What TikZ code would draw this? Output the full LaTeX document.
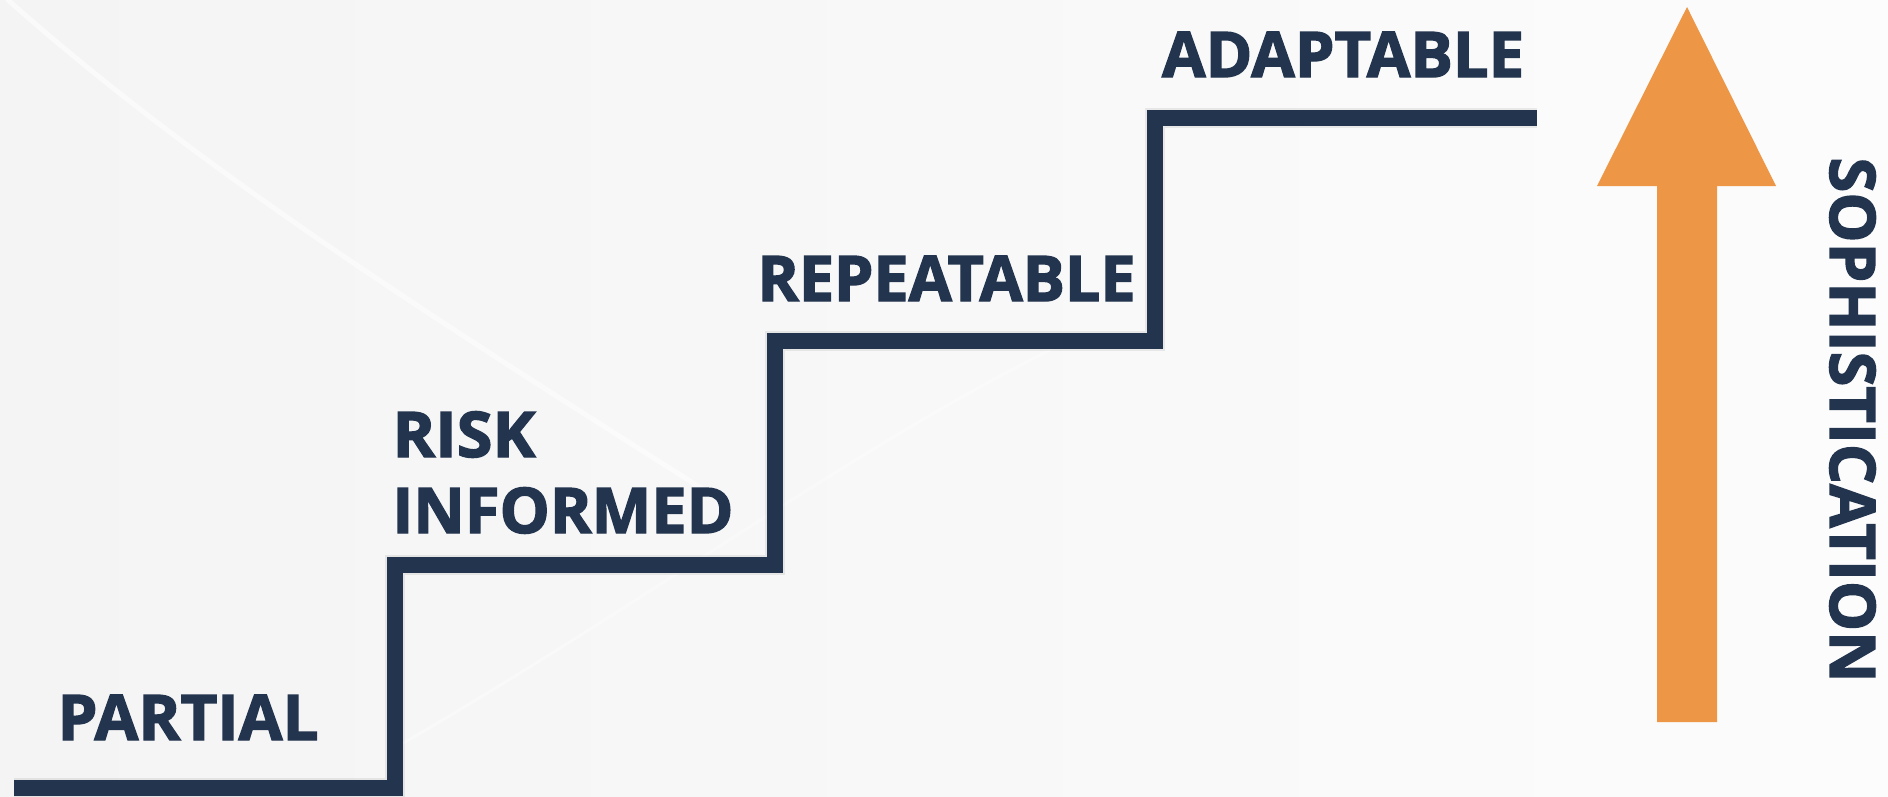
\documentclass[tikz,border=0pt]{standalone}
\usepackage{graphicx}
\usepackage{fontspec}
\setmainfont{Open Sans}[BoldFeatures={FakeBold=2.2}]
\definecolor{navy}{RGB}{34,52,78}
\definecolor{arroworange}{RGB}{237,150,69}
\definecolor{bgA}{RGB}{244,244,244}
\definecolor{bgB}{RGB}{252,252,252}
\tikzset{
  lbl/.style={anchor=base west, inner sep=0pt, outer sep=0pt, text=navy,
    font=\bfseries\fontsize{63}{63}\selectfont},
  stair/.style={line width=16pt, draw=navy, line join=miter, line cap=butt},
  stairshadow/.style={line width=16pt, draw=black, line join=miter, line cap=butt},
  streak/.style={draw=white, line cap=round}
}
\begin{document}
\begin{tikzpicture}[x=1pt,y=1pt]
  % background
  \useasboundingbox (0,0) rectangle (1888,-796);
  \fill[left color=bgA, right color=bgB] (0,0) rectangle (1888,-796);
  \draw[streak, line width=5pt, opacity=0.55] (8,0) .. controls (200,-170) and (420,-310) .. (720,-500);
  \draw[streak, line width=3pt, opacity=0.35] (400,-745) .. controls (650,-600) and (850,-450) .. (1050,-350);

  % stair coordinates
  \coordinate (s0) at (14,-788);
  \coordinate (s1) at (395,-788);
  \coordinate (s2) at (395,-565);
  \coordinate (s3) at (775,-565);
  \coordinate (s4) at (775,-341);
  \coordinate (s5) at (1155,-341);
  \coordinate (s6) at (1155,-118);
  \coordinate (s7) at (1537,-118);

  % shadow
  \begin{scope}[shift={(5,-5)}]
    \draw[stairshadow, opacity=0.07, line width=20pt] (s0) -- (s1) -- (s2) -- (s3) -- (s4) -- (s5) -- (s6) -- (s7);
  \end{scope}
  \begin{scope}[shift={(3,-3)}]
    \draw[stairshadow, opacity=0.16] (s0) -- (s1) -- (s2) -- (s3) -- (s4) -- (s5) -- (s6) -- (s7);
  \end{scope}
  % stair line
  \draw[stair] (s0) -- (s1) -- (s2) -- (s3) -- (s4) -- (s5) -- (s6) -- (s7);

  % labels
  \node[lbl] (partial) at (57.5,-740) {\resizebox{261pt}{\height}{PARTIAL}};
  \node[lbl] (risk) at (392.5,-457) {\resizebox{143pt}{\height}{RISK}};
  \node[lbl] (informed) at (392.5,-533) {\resizebox{341pt}{\height}{INFORMED}};
  \node[lbl] (repeatable) at (757.5,-301) {\resizebox{378pt}{\height}{REPEATABLE}};
  \node[lbl] (adaptable) at (1162,-77) {\resizebox{362pt}{\height}{ADAPTABLE}};
  \node[lbl, rotate=-90] (soph) at (1830,-157.5) {\resizebox{525pt}{\height}{SOPHISTICATION}};

  % orange arrow
  \coordinate (tip) at (1687,-7);
  \fill[arroworange] (tip) -- (1776,-186) -- (1717,-186) -- (1717,-722)
      -- (1657,-722) -- (1657,-186) -- (1597,-186) -- cycle;
\end{tikzpicture}
\end{document}
